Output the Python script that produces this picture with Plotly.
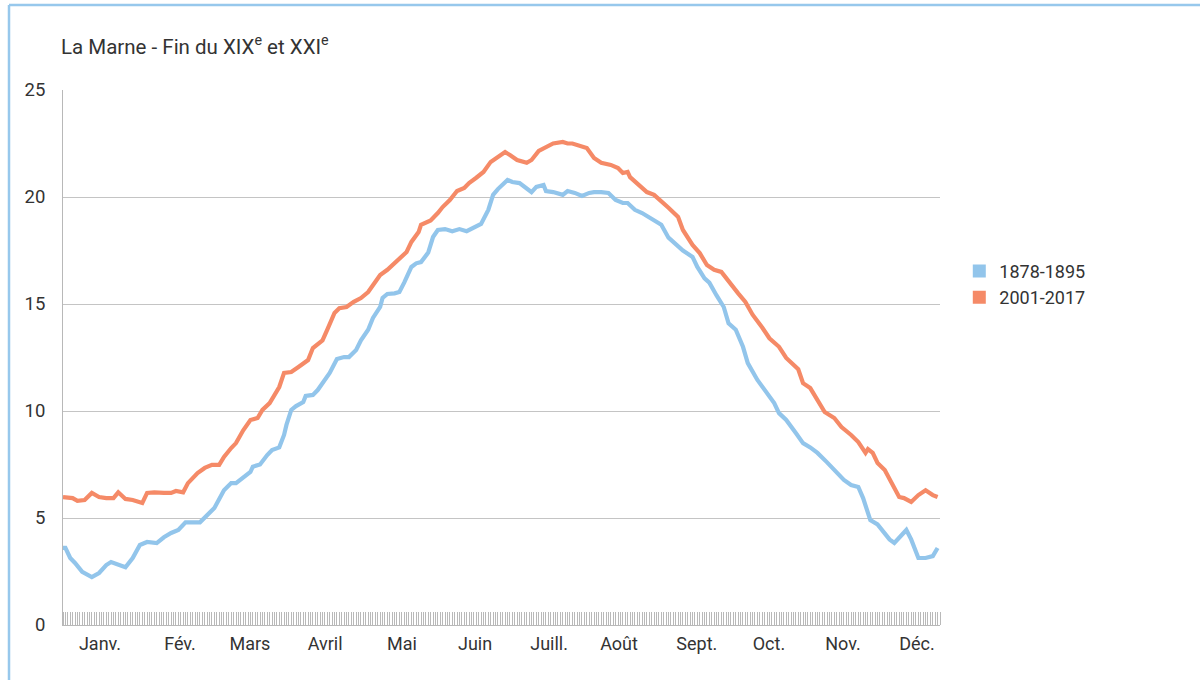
import plotly.graph_objects as go

# Température moyenne journalière de la Marne (°C), jour de l'année
days_1878 = [0, 1, 3, 5, 8, 12, 15, 18, 20, 23, 26, 29, 32, 35, 39, 42, 45, 48, 51, 57,
             60, 63, 67, 70, 72, 75, 78, 79, 82, 85, 87, 90, 92, 93, 95, 97, 100, 101, 104,
             106, 108, 111, 114, 117, 119, 122, 124, 127, 129, 132, 133, 135, 138, 140, 142,
             145, 147, 149, 152, 154, 156, 159, 162, 165, 168, 171, 174, 177, 179, 181, 183,
             185, 187, 190, 193, 195, 197, 200, 201, 204, 208, 210, 213, 216, 219, 221, 224,
             227, 230, 233, 235, 238, 241, 246, 249, 252, 256, 258, 262, 264, 267, 269, 272,
             275, 277, 280, 283, 285, 289, 292, 296, 298, 301, 305, 308, 311, 314, 318, 321,
             325, 328, 331, 333, 336, 339, 341, 344, 346, 348, 351, 353, 356, 359, 362, 364]
temp_1878 = [3.6, 3.6, 3.13, 2.9, 2.48, 2.24, 2.43, 2.8, 2.94, 2.8, 2.7, 3.13, 3.74, 3.88,
             3.83, 4.1, 4.3, 4.44, 4.8, 4.8, 5.14, 5.47, 6.3, 6.63, 6.63, 6.87, 7.15, 7.4,
             7.5, 7.94, 8.18, 8.3, 8.88, 9.35, 10.05, 10.23, 10.42, 10.7, 10.75, 10.98, 11.3,
             11.78, 12.43, 12.52, 12.52, 12.85, 13.3, 13.8, 14.35, 14.86, 15.28, 15.47, 15.5,
             15.56, 16.0, 16.73, 16.9, 16.96, 17.4, 18.13, 18.46, 18.5, 18.4, 18.5, 18.4,
             18.55, 18.74, 19.4, 20.1, 20.37, 20.56, 20.8, 20.7, 20.65, 20.4, 20.23, 20.47,
             20.56, 20.28, 20.23, 20.1, 20.28, 20.19, 20.05, 20.19, 20.23, 20.23, 20.19,
             19.86, 19.72, 19.72, 19.4, 19.25, 18.93, 18.7, 18.1, 17.66, 17.5, 17.2, 16.73,
             16.2, 16.0, 15.4, 14.86, 14.1, 13.8, 13.0, 12.24, 11.45, 11.0, 10.37, 9.9, 9.58,
             8.97, 8.5, 8.3, 8.04, 7.6, 7.24, 6.78, 6.54, 6.45, 5.93, 4.9, 4.7, 4.44, 4.0,
             3.83, 4.1, 4.44, 4.0, 3.13, 3.13, 3.22, 3.6]

days_2001 = [0, 4, 6, 9, 12, 15, 18, 21, 23, 26, 29, 31, 33, 35, 38, 42, 45, 47, 50, 52,
             56, 59, 62, 65, 67, 70, 72, 75, 78, 81, 83, 86, 90, 92, 95, 98, 102, 104, 108,
             110, 113, 115, 118, 121, 124, 127, 129, 132, 135, 137, 140, 143, 145, 148, 149,
             153, 156, 158, 161, 164, 167, 169, 172, 175, 178, 181, 184, 186, 189, 193, 195,
             198, 201, 204, 208, 210, 212, 215, 218, 221, 224, 228, 231, 233, 235, 236, 239,
             243, 246, 249, 252, 256, 258, 262, 265, 268, 271, 274, 278, 281, 284, 287, 291,
             294, 298, 301, 306, 308, 311, 314, 317, 321, 324, 328, 331, 334, 335, 337, 339,
             342, 345, 348, 350, 353, 356, 359, 362, 364]
temp_2001 = [5.98, 5.93, 5.8, 5.84, 6.17, 5.98, 5.93, 5.93, 6.2, 5.89, 5.84, 5.75, 5.7,
             6.17, 6.2, 6.17, 6.17, 6.26, 6.2, 6.63, 7.1, 7.34, 7.48, 7.48, 7.85, 8.27, 8.5,
             9.1, 9.58, 9.67, 10.05, 10.37, 11.12, 11.78, 11.82, 12.06, 12.38, 12.94, 13.3,
             13.8, 14.58, 14.8, 14.86, 15.1, 15.28, 15.56, 15.9, 16.35, 16.6, 16.8, 17.15,
             17.43, 17.9, 18.36, 18.7, 18.9, 19.25, 19.53, 19.86, 20.28, 20.42, 20.65, 20.9,
             21.17, 21.64, 21.87, 22.1, 21.96, 21.73, 21.6, 21.73, 22.15, 22.3, 22.5, 22.57,
             22.5, 22.5, 22.38, 22.29, 21.82, 21.6, 21.5, 21.35, 21.12, 21.17, 20.93, 20.65,
             20.23, 20.1, 19.77, 19.5, 19.07, 18.46, 17.76, 17.38, 16.82, 16.6, 16.5, 15.9,
             15.5, 15.1, 14.5, 13.9, 13.4, 13.0, 12.48, 11.95, 11.3, 11.07, 10.5, 9.95, 9.67,
             9.25, 8.88, 8.55, 8.04, 8.22, 8.04, 7.57, 7.24, 6.64, 5.98, 5.93, 5.75, 6.07,
             6.3, 6.07, 5.98]

month_labels = ["Janv.", "Fév.", "Mars", "Avril", "Mai", "Juin", "Juill.", "Août",
                "Sept.", "Oct.", "Nov.", "Déc."]
month_label_days = [15.4, 48.7, 77.8, 109.1, 141.1, 171.5, 202.3, 231.4, 263.8, 293.8,
                    324.6, 355.4]
y_ticks = [0, 5, 10, 15, 20, 25]

series_names = ["1878-1895", "2001-2017"]
BLUE = "#92C5EB"
ORANGE = "#F58A67"
TEXT = "#333333"
GRID = "#c4c4c4"
FONT = "Roboto, DejaVu Sans, sans-serif"

fig = go.Figure()
for name, xs, ys, col in [(series_names[0], days_1878, temp_1878, BLUE),
                          (series_names[1], days_2001, temp_2001, ORANGE)]:
    fig.add_trace(go.Scatter(x=xs, y=ys, mode="lines", name=name, showlegend=False,
                             line=dict(color=col, width=4.2, shape="linear"),
                             hoverinfo="x+y"))
# square swatches for the legend
for name, col in [(series_names[0], BLUE), (series_names[1], ORANGE)]:
    fig.add_trace(go.Scatter(x=[None], y=[None], mode="markers", name=name,
                             marker=dict(symbol="square", size=13, color=col)))

# light blue frame around the figure
fx0 = (9 - 63) / 877
ftop = (625 - 5) / 535
fig.add_shape(type="line", xref="paper", yref="paper", x0=fx0, x1=fx0, y0=-0.2, y1=ftop,
              line=dict(color="#97C8EC", width=2.5))
fig.add_shape(type="line", xref="paper", yref="paper", x0=fx0, x1=1.4, y0=ftop, y1=ftop,
              line=dict(color="#97C8EC", width=2.5))

fig.add_annotation(xref="paper", yref="paper", x=-0.004, y=(625 - 45) / 535,
                   xanchor="left", yanchor="middle", showarrow=False,
                   text="La Marne - Fin du XIX<sup>e</sup> et XXI<sup>e</sup>",
                   font=dict(family=FONT, size=20.5, color=TEXT))

fig.update_layout(
    width=1200, height=680,
    margin=dict(l=63, r=260, t=90, b=55),
    paper_bgcolor="white", plot_bgcolor="white",
    font=dict(family=FONT, color=TEXT),
    legend=dict(x=1.022, y=0.637, xanchor="left", yanchor="middle",
                font=dict(family=FONT, size=18, color=TEXT), itemwidth=30,
                bgcolor="rgba(0,0,0,0)"),
    xaxis=dict(range=[0, 365], tickmode="array", tickvals=month_label_days,
               ticktext=month_labels, ticks="", showgrid=False, zeroline=False,
               showline=True, linecolor="#b8b8b8", linewidth=1,
               ticklabelstandoff=2,
               tickfont=dict(family=FONT, size=18, color=TEXT),
               minor=dict(ticks="inside", ticklen=13, tickmode="linear", tick0=0, dtick=1,
                          tickcolor="#b9b9b9", tickwidth=1, showgrid=False)),
    yaxis=dict(range=[0, 25], tickmode="array", tickvals=y_ticks, ticks="",
               showgrid=True, gridcolor=GRID, gridwidth=1, zeroline=False,
               showline=True, linecolor="#b8b8b8", linewidth=1,
               ticklabelstandoff=13,
               tickfont=dict(family=FONT, size=18.5, color=TEXT)),
)

fig.write_html("out.html")
